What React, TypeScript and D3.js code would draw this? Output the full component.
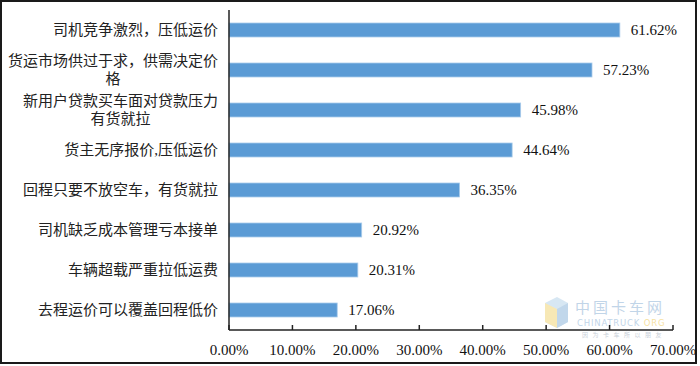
import React from "react";
import * as d3 from "d3";

const categories: string[][] = [
  ["司机竞争激烈，压低运价"],
  ["货运市场供过于求，供需决定价", "格"],
  ["新用户贷款买车面对贷款压力", "有货就拉"],
  ["货主无序报价,压低运价"],
  ["回程只要不放空车，有货就拉"],
  ["司机缺乏成本管理亏本接单"],
  ["车辆超载严重拉低运费"],
  ["去程运价可以覆盖回程低价"],
];
const values: number[] = [61.62, 57.23, 45.98, 44.64, 36.35, 20.92, 20.31, 17.06];
const ticks: number[] = [0, 10, 20, 30, 40, 50, 60, 70];

const W = 700;
const H = 366;
const left = 229;
const right = 673;
const top = 10;
const bottom = 330;

export default function App() {
  const x = d3.scaleLinear().domain([0, 70]).range([left, right]);
  const idx = categories.map((_, i) => String(i));
  const y = d3.scaleBand().domain(idx).range([top, bottom]).paddingInner(0.65).paddingOuter(0.325);
  const serif = "'Liberation Serif', 'Times New Roman', serif";
  const cjk = "'Liberation Serif', 'Noto Sans CJK SC', serif";
  return (
    <svg width={W} height={H} style={{ position: "absolute", left: 0, top: 0, background: "#fff" }}>
      <rect x={1} y={1} width={695} height={362} fill="#fff" stroke="#1a1a1a" strokeWidth={2} />
      {/* watermark */}
      <g opacity={0.55}>
        <polygon points="545,303 557,297 568,303 568,322 557,328 545,322" fill="#b8d4ea" />
        <polygon points="545,303 557,309 557,328 545,322" fill="#f2d67a" />
        <polygon points="557,309 568,303 568,322 557,328" fill="#8fb8dc" />
        <text x={575} y={313} fontSize={15} fill="#8fb3d6" fontFamily="'Noto Sans CJK SC', sans-serif" letterSpacing={3}>中国卡车网</text>
        <text x={577} y={326} fontSize={8.5} fill="#8fb3d6" fontFamily="'DejaVu Sans', sans-serif" letterSpacing={0.8}>CHINATRUCK <tspan fill="#f0c850">ORG</tspan></text>
        <text x={582} y={337} fontSize={6} fill="#9aa9b8" fontFamily="'Noto Sans CJK SC', sans-serif" letterSpacing={4.5}>因为卡车所以朋友</text>
      </g>
      {values.map((v, i) => (
        <rect key={i} x={x(0)} y={y(String(i))!} width={x(v) - x(0)} height={y.bandwidth()} fill="#5b9bd5" stroke="#a9cbea" strokeWidth={0.8} />
      ))}
      {values.map((v, i) => (
        <text key={"v" + i} x={x(v) + 11} y={y(String(i))! + y.bandwidth() / 2} dy="0.35em" fontSize={15} fontFamily={serif} fill="#111">
          {v.toFixed(2)}%
        </text>
      ))}
      {categories.map((lines, i) => {
        const cy = y(String(i))! + y.bandwidth() / 2;
        if (lines.length === 1) {
          return (
            <text key={"c" + i} x={218} y={cy} dy="0.35em" textAnchor="end" fontSize={15} fontFamily={cjk} fill="#222">
              {lines[0]}
            </text>
          );
        }
        const w = lines[0].length * 15;
        const cx = 218 - w / 2;
        return (
          <text key={"c" + i} fontSize={15} fontFamily={cjk} fill="#222" textAnchor="middle">
            {lines.map((l, j) => (
              <tspan key={j} x={cx} y={cy + (j - (lines.length - 1) / 2) * 18} dy="0.35em">{l}</tspan>
            ))}
          </text>
        );
      })}
      <line x1={left} x2={left} y1={top} y2={bottom} stroke="#222" strokeWidth={1.5} />
      <line x1={left} x2={right} y1={bottom} y2={bottom} stroke="#222" strokeWidth={1.5} />
      {ticks.map((t) => (
        <g key={"t" + t}>
          <line x1={x(t)} x2={x(t)} y1={bottom} y2={bottom - 5} stroke="#222" strokeWidth={1.5} />
          <text x={x(t)} y={350} dy="0.35em" textAnchor="middle" fontSize={15} fontFamily={serif} fill="#111">
            {t.toFixed(2)}%
          </text>
        </g>
      ))}
    </svg>
  );
}
